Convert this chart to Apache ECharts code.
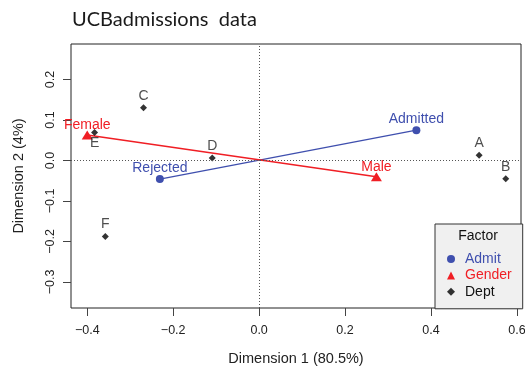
<!DOCTYPE html>
<html>
<head>
<meta charset="utf-8">
<script src="https://cdn.jsdelivr.net/npm/echarts@6/dist/echarts.min.js"></script>
<style>
  html, body { margin: 0; padding: 0; background: #fff; }
  #chart { width: 525px; height: 367px; }
</style>
</head>
<body>
<div id="chart"></div>
<script>
// Correspondence analysis coordinates (first two dimensions)
const deptNames = ['A', 'B', 'C', 'D', 'E', 'F'];
const deptDim1 = [0.512, 0.574, -0.269, -0.109, -0.383, -0.358];
const deptDim2 = [0.013, -0.045, 0.130, 0.006, 0.069, -0.188];

const admitNames = ['Rejected', 'Admitted'];
const admitDim1 = [-0.231, 0.366];
const admitDim2 = [-0.046, 0.075];

const genderNames = ['Female', 'Male'];
const genderDim1 = [-0.400, 0.273];
const genderDim2 = [0.063, -0.040];

const xTicks = [-0.4, -0.2, 0, 0.2, 0.4, 0.6];
const yTicks = [-0.3, -0.2, -0.1, 0, 0.1, 0.2];

const BLUE = '#3f4fae';
const RED = '#f01e24';
const INK = '#111';
const FONT = "'Liberation Sans', Arial, sans-serif";

function tickFmt(v) {
  return (v < 0 ? '\u2212' : '') + Math.abs(v).toFixed(1);
}

function points(names, d1, d2) {
  return names.map((n, i) => ({ name: n, value: [d1[i], d2[i]] }));
}

const deptData = points(deptNames, deptDim1, deptDim2).map(p =>
  p.name === 'E' ? Object.assign(p, { label: { offset: [0, 11] } }) : p
);

function pointLabel(color, dy) {
  return {
    show: true,
    position: 'inside',
    offset: [0, dy],
    fontFamily: FONT,
    fontSize: 14,
    color: color,
    formatter: p => p.name
  };
}

const chart = echarts.init(document.getElementById('chart'), null, { renderer: 'canvas' });

chart.setOption({
  animation: false,
  backgroundColor: '#fff',
  title: {
    text: 'UCBadmissions  data',
    left: 67,
    top: 5,
    textStyle: { fontFamily: 'Lato, sans-serif', fontSize: 20, fontWeight: 'normal', color: '#1a1a1a' }
  },
  grid: {
    left: 71, right: 4, top: 44, bottom: 59,
    outerBoundsMode: 'none',
    containLabel: false,
    show: true, borderColor: '#222', borderWidth: 1, backgroundColor: 'transparent'
  },
  xAxis: {
    type: 'value',
    min: -0.4378, max: 0.6095,
    name: 'Dimension 1 (80.5%)',
    nameLocation: 'middle',
    nameGap: 43,
    nameTextStyle: { fontFamily: FONT, fontSize: 14.5, color: '#222' },
    axisLine: { show: false, onZero: false },
    axisTick: { show: true, customValues: xTicks, length: 8, lineStyle: { color: '#444' } },
    axisLabel: { customValues: xTicks, formatter: tickFmt, margin: 16, fontFamily: FONT, fontSize: 12.5, color: '#222' },
    splitLine: { show: false }
  },
  yAxis: {
    type: 'value',
    min: -0.3644, max: 0.2878,
    name: 'Dimension 2 (4%)',
    nameLocation: 'middle',
    nameGap: 45,
    nameTextStyle: { fontFamily: FONT, fontSize: 14.5, color: '#222' },
    axisLine: { show: false, onZero: false },
    axisTick: { show: true, customValues: yTicks, length: 8, lineStyle: { color: '#444' } },
    axisLabel: { customValues: yTicks, formatter: tickFmt, rotate: 90, margin: 14, fontFamily: FONT, fontSize: 12.5, color: '#222' },
    splitLine: { show: false }
  },
  legend: {
    orient: 'vertical',
    left: 435,
    top: 224,
    backgroundColor: '#f0f0f0',
    borderColor: '#333',
    borderWidth: 1,
    borderRadius: 0,
    padding: [28, 11, 10, 12],
    itemWidth: 8,
    itemHeight: 8,
    itemGap: 2.4,
    textStyle: { fontFamily: FONT, fontSize: 14, padding: [0, 0, 0, 5] },
    data: [
      { name: 'Admit', icon: 'circle', itemStyle: { color: BLUE }, textStyle: { color: BLUE } },
      { name: 'Gender', icon: 'triangle', itemStyle: { color: RED }, textStyle: { color: RED } },
      { name: 'Dept', icon: 'diamond', itemStyle: { color: '#000' }, textStyle: { color: INK } }
    ]
  },
  graphic: [{
    type: 'text',
    z: 100,
    style: {
      text: 'Factor',
      x: 478, y: 236,
      align: 'center', verticalAlign: 'middle',
      font: '14px ' + FONT,
      fill: '#111'
    }
  }],
  series: [
    {
      name: 'axes',
      type: 'scatter',
      data: [],
      silent: true,
      markLine: {
        silent: true,
        symbol: 'none',
        label: { show: false },
        lineStyle: { type: [1, 2], color: '#555', width: 1 },
        data: [{ xAxis: 0 }, { yAxis: 0 }]
      }
    },
    {
      name: 'Admit',
      type: 'line',
      data: points(admitNames, admitDim1, admitDim2),
      symbol: 'circle',
      symbolSize: 8,
      itemStyle: { color: BLUE },
      lineStyle: { color: BLUE, width: 1.5 },
      label: pointLabel(BLUE, -11),
      z: 3
    },
    {
      name: 'Gender',
      type: 'line',
      data: points(genderNames, genderDim1, genderDim2),
      symbol: 'triangle',
      symbolSize: [11, 9],
      itemStyle: { color: RED },
      lineStyle: { color: RED, width: 1.5 },
      label: pointLabel(RED, -10),
      z: 3
    },
    {
      name: 'Dept',
      type: 'scatter',
      data: deptData,
      symbol: 'diamond',
      symbolSize: 7,
      itemStyle: { color: '#000' },
      label: pointLabel('#222', -12),
      z: 4
    }
  ]
});
</script>
</body>
</html>
